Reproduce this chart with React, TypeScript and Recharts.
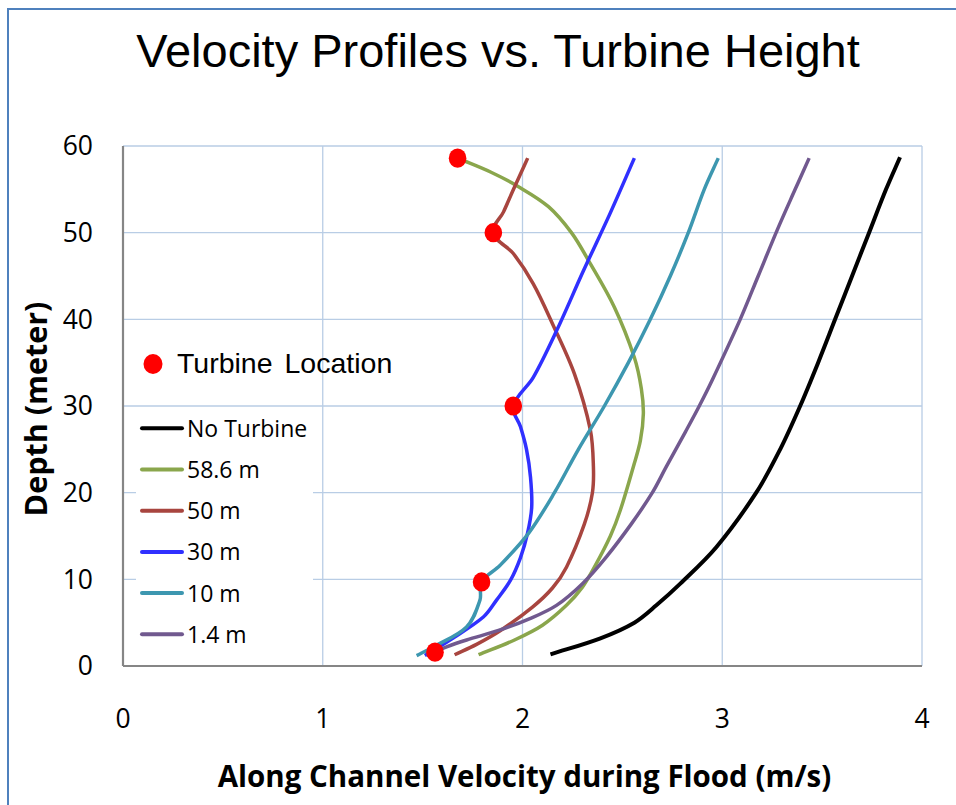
import React from 'react';
import { ComposedChart, Line, Scatter, XAxis, YAxis, CartesianGrid, Legend, Label } from 'recharts';

// ---- axis ticks ----
const xTicks = [0, 1, 2, 3, 4];
const yTicks = [0, 10, 20, 30, 40, 50, 60];

// ---- series names & colours ----
const seriesNames = ['No Turbine', '58.6 m', '50 m', '30 m', '10 m', '1.4 m'];
const seriesColors = ['#000000', '#8aa64c', '#a8453f', '#3030ff', '#3d97b0', '#71598f'];

// ---- profiles (velocity m/s, depth m), bottom to top ----
const noTurbineVel = [2.14, 2.39, 2.56, 2.67, 2.79, 2.97, 3.17, 3.29, 3.39, 3.48, 3.565, 3.65, 3.735, 3.82, 3.89];
const noTurbineDepth = [1.35, 3.2, 5.0, 7.0, 9.5, 13.7, 20, 25, 30, 35, 40, 45, 50, 55, 58.7];

const t586Vel = [1.78, 1.96, 2.1, 2.22, 2.3, 2.36, 2.44, 2.49, 2.555, 2.59, 2.605, 2.595, 2.56, 2.46, 2.33, 2.245, 2.13, 1.98, 1.84, 1.675];
const t586Depth = [1.3, 3.0, 4.7, 7.0, 9.1, 11.4, 15, 18, 23, 26, 29.1, 32, 35.6, 41.4, 46.8, 50, 53, 55.3, 57, 58.6];

const t50Vel = [1.66, 1.77, 1.89, 2.05, 2.15, 2.22, 2.31, 2.35, 2.355, 2.34, 2.26, 2.15, 2.054, 1.954, 1.854, 1.905, 1.955, 2.026];
const t50Depth = [1.3, 2.5, 4.1, 6.8, 9, 11.4, 16.4, 20, 23, 27.2, 33.7, 39.5, 44.1, 47.6, 50, 52.4, 55, 58.6];

const t30Vel = [1.511, 1.637, 1.804, 1.87, 1.94, 1.99, 2.025, 2.046, 2.04, 2.02, 1.99, 1.954, 2.054, 2.171, 2.305, 2.438, 2.56];
const t30Depth = [1.2, 3.0, 5.65, 7.6, 9.9, 12.5, 15.3, 18.3, 21.8, 25, 27.6, 30, 33.3, 38.7, 45.6, 52.2, 58.6];

const t10Vel = [1.47, 1.553, 1.72, 1.787, 1.795, 1.887, 2.03, 2.16, 2.28, 2.41, 2.53, 2.64, 2.74, 2.83, 2.91, 2.98];
const t10Depth = [1.2, 2.2, 4.5, 7.6, 9.7, 11.6, 15.3, 20, 25, 30, 35, 40, 45, 50, 55, 58.6];

const t14Vel = [1.52, 1.62, 1.72, 1.88, 2.04, 2.17, 2.3, 2.42, 2.545, 2.65, 2.72, 2.82, 2.885, 2.95, 3.09, 3.18, 3.275, 3.365, 3.435];
const t14Depth = [1.2, 2.2, 3.0, 4.1, 5.5, 7.0, 9.5, 12.6, 16.4, 20, 23, 27.2, 30, 33, 40, 45, 50.3, 55, 58.6];

// ---- turbine locations ----
const turbineVel = [1.675, 1.854, 1.954, 1.795, 1.562];
const turbineDepth = [58.6, 50.0, 30.0, 9.7, 1.6];

const toRows = (xs: number[], ys: number[]) => xs.map((x, i) => ({ x, y: ys[i] }));

const seriesData = [
  toRows(noTurbineVel, noTurbineDepth),
  toRows(t586Vel, t586Depth),
  toRows(t50Vel, t50Depth),
  toRows(t30Vel, t30Depth),
  toRows(t10Vel, t10Depth),
  toRows(t14Vel, t14Depth),
];
const turbineRows = toRows(turbineVel, turbineDepth);

// Excel-like smoothing curve factory (bezier with chord-length handles)
function smoothCurve(context: any) {
  let pts: number[][] = [];
  return {
    areaStart() {},
    areaEnd() {},
    lineStart() {
      pts = [];
    },
    point(x: number, y: number) {
      pts.push([+x, +y]);
    },
    lineEnd() {
      const n = pts.length;
      if (!n) return;
      context.moveTo(pts[0][0], pts[0][1]);
      if (n === 1) return;
      const tan = pts.map((_, i) => {
        const a = pts[Math.max(0, i - 1)];
        const b = pts[Math.min(n - 1, i + 1)];
        const dx = b[0] - a[0];
        const dy = b[1] - a[1];
        const len = Math.hypot(dx, dy) || 1;
        return [dx / len, dy / len];
      });
      for (let i = 0; i < n - 1; i++) {
        const p = pts[i];
        const q = pts[i + 1];
        const k = Math.hypot(q[0] - p[0], q[1] - p[1]) / 3;
        context.bezierCurveTo(
          p[0] + tan[i][0] * k, p[1] + tan[i][1] * k,
          q[0] - tan[i + 1][0] * k, q[1] - tan[i + 1][1] * k,
          q[0], q[1]
        );
      }
    },
  };
}

const calibriLike = "'Open Sans', 'Noto Sans', sans-serif";
const arialLike = "'Liberation Sans', Arial, sans-serif";

const LegendContent = () => (
  <svg width={956} height={805} style={{ position: 'absolute', left: 0, top: 0 }}>
    <ellipse cx={153} cy={364} rx={9.5} ry={10} fill="#ff0000" />
    <text x={177} y={373} fontFamily={arialLike} fontSize={28.5} fill="#000" wordSpacing={4}>
      Turbine Location
    </text>
    <rect x={136} y={410} width={177} height={245} fill="#ffffff" />
    {seriesNames.map((name, i) => {
      const cy = 428.3 + i * 41.2;
      return (
        <g key={name}>
          <line x1={142} x2={182} y1={cy} y2={cy} stroke={seriesColors[i]} strokeWidth={4} strokeLinecap="round" />
          <text x={187} y={cy + 8.4} fontFamily={calibriLike} fontSize={23} fill="#000">
            {name}
          </text>
        </g>
      );
    })}
  </svg>
);

const dotShape = (p: any) => <ellipse cx={p.cx} cy={p.cy} rx={8.8} ry={9.6} fill="#ff0000" />;

export default function App() {
  return (
    <div style={{ position: 'absolute', left: 0, top: 0, width: 956, height: 805, overflow: 'hidden', background: '#fff' }}>
      <div
        style={{
          position: 'absolute', left: 7, top: 8, width: 1200, height: 1200,
          borderLeft: '2px solid #4f81bd', borderTop: '2px solid #4f81bd',
        }}
      />
      <svg width={956} height={120} style={{ position: 'absolute', left: 0, top: 0 }}>
        <text x={498} y={67} textAnchor="middle" fontFamily={arialLike} fontSize={47} fill="#000">
          Velocity Profiles vs. Turbine Height
        </text>
      </svg>
      <div style={{ position: 'absolute', left: 0, top: 0 }}>
        <ComposedChart width={956} height={805} margin={{ top: 146, right: 34, left: 0, bottom: 0 }}>
          <CartesianGrid stroke="#b9cde5" strokeWidth={1.3} />
          <XAxis
            type="number"
            dataKey="x"
            domain={[0, 4]}
            ticks={xTicks}
            height={139}
            tickLine={false}
            tickMargin={37}
            allowDuplicatedCategory={false}
            axisLine={{ stroke: '#868686', strokeWidth: 2.2 }}
            tick={{ fontSize: 26.5, fill: '#000', fontFamily: calibriLike }}
          >
            <Label
              content={(p: any) => {
                const vb = p.viewBox;
                return (
                  <text x={vb.x + vb.width / 2 + 2} y={vb.y + 121} textAnchor="middle" fontFamily={calibriLike} fontWeight="bold" fontSize={29.5} fill="#000">
                    Along Channel Velocity during Flood (m/s)
                  </text>
                );
              }}
            />
          </XAxis>
          <YAxis
            type="number"
            domain={[0, 60]}
            ticks={yTicks}
            width={123}
            tickLine={false}
            tickMargin={24}
            axisLine={{ stroke: '#868686', strokeWidth: 2.2 }}
            tick={{ fontSize: 26.5, fill: '#000', fontFamily: calibriLike }}
          >
            <Label
              content={(p: any) => {
                const vb = p.viewBox;
                const cy = vb.y + vb.height / 2 + 3;
                return (
                  <text x={47} y={cy} transform={`rotate(-90, 47, ${cy})`} textAnchor="middle" fontFamily={calibriLike} fontWeight="bold" fontSize={30.5} fill="#000">
                    Depth (meter)
                  </text>
                );
              }}
            />
          </YAxis>
          {seriesData.map((rows, i) => (
            <Line
              key={seriesNames[i]}
              name={seriesNames[i]}
              data={rows}
              dataKey="y"
              type={smoothCurve as any}
              stroke={seriesColors[i]}
              strokeWidth={i === 0 ? 4 : 3.5}
              dot={false}
              activeDot={false}
              isAnimationActive={false}
            />
          ))}
          <Scatter name="Turbine Location" data={turbineRows} dataKey="y" shape={dotShape} fill="#ff0000" isAnimationActive={false} />
          <Legend
            content={LegendContent}
            layout="horizontal"
            align="center"
            verticalAlign="middle"
            wrapperStyle={{ position: 'absolute', left: 0, top: 0, width: 956, height: 805, pointerEvents: 'none' }}
          />
        </ComposedChart>
      </div>
    </div>
  );
}
